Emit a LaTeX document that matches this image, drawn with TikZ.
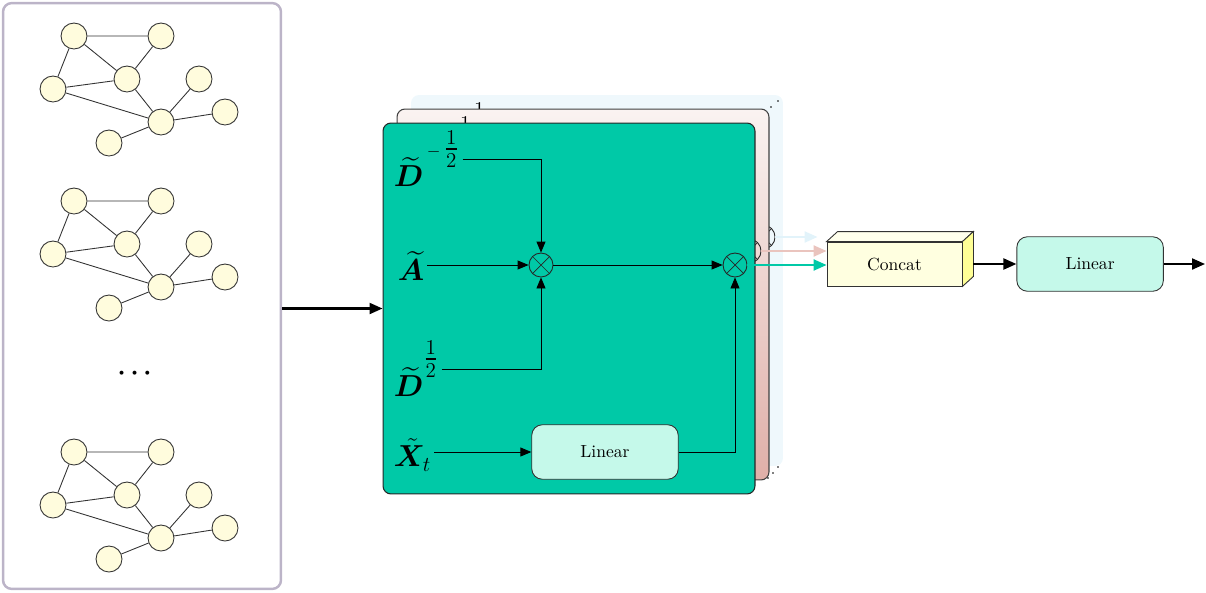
\documentclass[tikz,border=0pt]{standalone}
\usepackage{amsmath,amssymb}
\usepackage{bm}
\usepackage{xcolor}
\usetikzlibrary{arrows.meta, positioning, calc}
\definecolor{graphyellow}{RGB}{255,252,221}
\definecolor{framegray}{RGB}{188,180,200}
\definecolor{layerteal}{RGB}{0,201,167}
\definecolor{layerpinktop}{RGB}{250,243,241}
\definecolor{layerpink}{RGB}{223,175,168}
\definecolor{layerpinkarrow}{RGB}{234,196,190}
\definecolor{layerblue}{RGB}{239,248,252}
\definecolor{layerbluearrow}{RGB}{226,243,250}
\definecolor{linearmint}{RGB}{197,249,234}
\definecolor{concatyellow}{RGB}{255,255,224}
\definecolor{concatside}{RGB}{255,255,150}
\newcommand{\hexp}[1]{\raisebox{11pt}{$\scriptstyle #1$}}

\begin{document}
\begin{tikzpicture}[
    x=0.02cm, y=-0.02cm,
    gnode/.style={circle, draw=black!80, fill=graphyellow, minimum size=0.52cm, inner sep=0pt, line width=0.5pt},
    gedge/.style={draw=black!80, line width=0.5pt},
    layerbox/.style={rectangle, rounded corners=4.5pt, minimum width=7.44cm, minimum height=7.42cm, line width=0.6pt},
    linbox/.style={rectangle, draw=black!80, fill=linearmint, rounded corners=6pt, minimum width=2.93cm, minimum height=1.09cm, line width=0.5pt},
    mul/.style={circle, draw=black!85, minimum size=0.48cm, inner sep=0pt, line width=0.5pt,
        path picture={\draw[line width=0.4pt] (path picture bounding box.north west) -- (path picture bounding box.south east)
            (path picture bounding box.north east) -- (path picture bounding box.south west);}},
    lbl/.style={inner sep=1.5pt, font=\LARGE},
    arrow/.style={-{Triangle[length=2.2mm, width=1.8mm]}, line width=0.5pt},
    thickarrow/.style={-{Triangle[length=2.6mm, width=2.2mm]}, line width=1.2pt}
]
\useasboundingbox (0,0) rectangle (1206,592);

% Input graphs
\node[rectangle, draw=framegray, line width=1.4pt, rounded corners=5pt, minimum width=5.56cm, minimum height=11.72cm] (input) at (142,296) {};

\foreach \gy [count=\n] in {0,165,416}{
  \begin{scope}[shift={(0,\gy)}]
    \node[gnode] (a\n) at (74,36) {};
    \node[gnode] (b\n) at (161,36) {};
    \node[gnode] (c\n) at (127,79) {};
    \node[gnode] (d\n) at (53,89) {};
    \node[gnode] (e\n) at (199,79) {};
    \node[gnode] (f\n) at (161,122) {};
    \node[gnode] (g\n) at (225,112) {};
    \node[gnode] (h\n) at (109,143) {};
    \draw[gedge] (a\n) -- (b\n) (a\n) -- (c\n) (a\n) -- (d\n) (b\n) -- (c\n) (d\n) -- (c\n)
        (d\n) -- (f\n) (c\n) -- (f\n) (e\n) -- (f\n) (f\n) -- (g\n) (f\n) -- (h\n);
  \end{scope}
}
\node[font=\Large] (dots) at (137,374) {$\boldsymbol{\cdots}$};

% Concat block
\node[rectangle, draw=black!80, fill=concatyellow, minimum width=2.7cm, minimum height=0.88cm, line width=0.5pt] (concat) at (894.5,264) {Concat};
\filldraw[draw=black!80, fill=concatyellow!60!white, line width=0.5pt] (concat.north west) -- ++(11,-10) -- ($(concat.north east)+(11,-10)$) -- (concat.north east) -- cycle;
\filldraw[draw=black!80, fill=concatside, line width=0.5pt] (concat.north east) -- ++(11,-10) -- ($(concat.south east)+(11,-10)$) -- (concat.south east) -- cycle;
\coordinate (cout) at ($(concat.east)+(11,0)$);

% Stacked GCN layers
\foreach \k/\ltop/\lbot/\ldraw/\lout/\lsh in {2/layerblue/layerblue/none/layerbluearrow/0.18cm,
    1/layerpinktop/layerpink/black!75/layerpinkarrow/0cm, 0/layerteal/layerteal/black!85/layerteal/0cm}{
  \begin{scope}[shift={(14*\k,-14*\k)}]
    \node[layerbox, top color=\ltop, bottom color=\lbot, draw=\ldraw] (layer) at (569,308.5) {};
    \node[lbl, anchor=west] (dm) at (391,159) {$\widetilde{\bm{D}}^{\hexp{\,{\scriptscriptstyle -}\,\tfrac{1}{2}}}$};
    \node[lbl] (at) at (411,266) {$\widetilde{\bm{A}}$};
    \node[lbl, anchor=west] (dh) at (391,369) {$\widetilde{\bm{D}}^{\hexp{\tfrac{1}{2}}}$};
    \node[lbl, anchor=west] (xt) at (391,455) {$\tilde{\bm{X}}_t$};
    \node[mul] (m1) at (541,265) {};
    \node[mul] (m2) at (735,265) {};
    \node[linbox] (lin) at (605,452) {Linear};
    \draw[arrow] (dm.east) -| (m1.north);
    \draw[arrow] (at.east |- m1.west) -- (m1.west);
    \draw[arrow] (dh.east) -| (m1.south);
    \draw[arrow] (xt.east |- lin.west) -- (lin.west);
    \draw[arrow] (m1.east) -- (m2.west);
    \draw[arrow] (lin.east) -| (m2.south);
    \draw[thickarrow, draw=\lout, shorten >=\lsh] (m2.east) -- (m2.east -| concat.west);
  \end{scope}
}
\foreach \p in {(771,107),(778,101),(768,478),(773,473),(778,467)}
  \fill \p circle (0.9);

% Flow arrows
\draw[thickarrow] (input.east |- layer.west) -- (layer.west);
\node[linbox, right=0.86cm of cout] (linear) {Linear};
\coordinate (out) at (1205,264);
\draw[thickarrow] (cout) -- (linear);
\draw[thickarrow] (linear) -- (out);

\end{tikzpicture}
\end{document}
